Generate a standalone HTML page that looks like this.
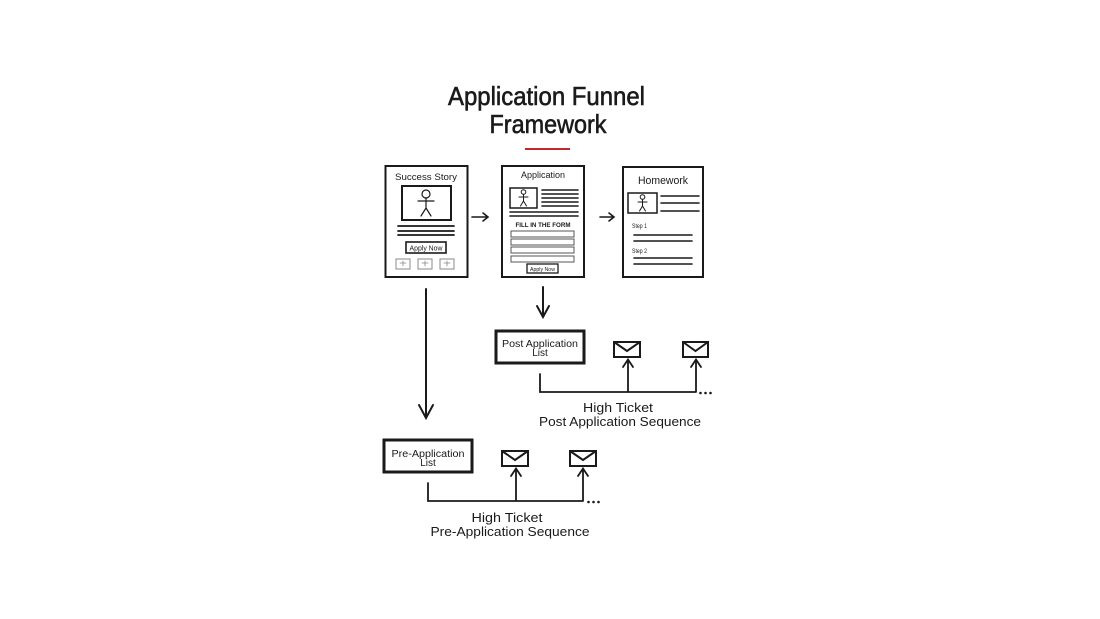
<!DOCTYPE html>
<html><head><meta charset="utf-8"><style>
html,body{margin:0;padding:0;background:#fff;width:1100px;height:619px;overflow:hidden}
svg{display:block}
text{font-family:"Liberation Sans",sans-serif;fill:#1a1a1a}
</style></head><body>
<svg width="1100" height="619" viewBox="0 0 1100 619" xmlns="http://www.w3.org/2000/svg">
<rect width="1100" height="619" fill="#fff"/>
<!-- Title -->
<text x="546.5" y="105" font-size="26" text-anchor="middle" textLength="197" lengthAdjust="spacingAndGlyphs" stroke="#1a1a1a" stroke-width="0.6">Application Funnel</text>
<text x="548" y="133" font-size="26" text-anchor="middle" textLength="117" lengthAdjust="spacingAndGlyphs" stroke="#1a1a1a" stroke-width="0.6">Framework</text>
<line x1="525" y1="149" x2="570" y2="149" stroke="#c1272d" stroke-width="2"/>

<g stroke="#1a1a1a" fill="none" stroke-linecap="round">
<!-- Success Story card -->
<rect x="385.5" y="166" width="82" height="111" stroke-width="2"/>
<rect x="402" y="186" width="49" height="34" stroke-width="2"/>
<circle cx="426" cy="194" r="4" stroke-width="1.2"/>
<path d="M426 198 V208 M418 201 H434 M426 208 L421 216 M426 208 L431 216" stroke-width="1.2"/>
<path d="M398 226 H454 M398 231 H454 M398 235 H454" stroke-width="1.8"/>
<rect x="406" y="242" width="40" height="11" stroke-width="1.6"/>
<g stroke="#888" stroke-width="1">
<rect x="396" y="259" width="14" height="10"/>
<rect x="418" y="259" width="14" height="10"/>
<rect x="440" y="259" width="14" height="10"/>
<path d="M403 261v5M400 263h6M425 261v5M422 263h6M447 261v5M444 263h6" stroke-width="0.8"/>
</g>

<!-- Application card -->
<rect x="502" y="166" width="82" height="111" stroke-width="2"/>
<rect x="510" y="188" width="27" height="20" stroke-width="1.5"/>
<circle cx="523.5" cy="192" r="2.3" stroke-width="1"/>
<path d="M523.5 194.5 V201 M519 197 H528 M523.5 201 L520.5 206 M523.5 201 L526.5 206" stroke-width="1"/>
<path d="M542 190 H578 M542 194 H578 M542 198 H578 M542 202 H578 M542 206 H578 M510 212 H578 M510 216 H578" stroke-width="1.6"/>
<g stroke="#555" stroke-width="1">
<rect x="511" y="231" width="63" height="6"/>
<rect x="511" y="239" width="63" height="6"/>
<rect x="511" y="247" width="63" height="6"/>
<rect x="511" y="256" width="63" height="6"/>
</g>
<rect x="527" y="264" width="31" height="9" stroke-width="1.3"/>

<!-- Homework card -->
<rect x="623" y="167" width="80" height="110" stroke-width="2"/>
<rect x="628" y="193" width="29" height="20" stroke-width="1.5"/>
<circle cx="642.5" cy="197" r="2.3" stroke-width="1"/>
<path d="M642.5 199.5 V206 M638 202 H647 M642.5 206 L639.5 211 M642.5 206 L645.5 211" stroke-width="1"/>
<path d="M661 196 H699 M661 203 H699 M661 211 H699" stroke-width="1.6"/>
<path d="M634 235 H692 M634 241 H692 M634 258 H692 M634 264 H692" stroke-width="1.6"/>

<!-- horizontal arrows -->
<path d="M472 217 H488 M483 213 L488 217 L483 221" stroke-width="1.6"/>
<path d="M600 217 H614 M609 213 L614 217 L609 221" stroke-width="1.6"/>

<!-- long down arrow -->
<path d="M426 289 V417 M419 405 L426 418 L433 405" stroke-width="2"/>
<!-- app down arrow -->
<path d="M543 287 V316 M537 306 L543 317 L549 306" stroke-width="2"/>

<!-- Post application list -->
<rect x="496" y="331" width="88" height="32" stroke-width="3"/>
<rect x="614" y="342" width="26" height="15" stroke-width="2"/>
<path d="M614 342 L627 351 L640 342" stroke-width="2"/>
<rect x="683" y="342" width="25" height="15" stroke-width="2"/>
<path d="M683 342 L695.5 351 L708 342" stroke-width="2"/>
<path d="M540 374 V392 H696 M628 392 V360 M623 367 L628 359.5 L633 367 M696 392 V360 M691 367 L696 359.5 L701 367" stroke-width="1.8" stroke-linejoin="miter"/>

<!-- Pre application list -->
<rect x="384" y="440" width="88" height="32" stroke-width="3"/>
<rect x="502" y="451" width="26" height="15" stroke-width="2"/>
<path d="M502 451 L515 460 L528 451" stroke-width="2"/>
<rect x="570" y="451" width="26" height="15" stroke-width="2"/>
<path d="M570 451 L583 460 L596 451" stroke-width="2"/>
<path d="M428 483 V501 H583 M516 501 V469 M511 476 L516 468.5 L521 476 M583 501 V469 M578 476 L583 468.5 L588 476" stroke-width="1.8" stroke-linejoin="miter"/>
</g>

<g fill="#1a1a1a">
<circle cx="700.5" cy="393" r="1.3"/><circle cx="705.5" cy="393" r="1.3"/><circle cx="710.5" cy="393" r="1.3"/>
<circle cx="588.5" cy="502" r="1.3"/><circle cx="593.5" cy="502" r="1.3"/><circle cx="598.5" cy="502" r="1.3"/>
</g>

<!-- card texts -->
<text x="426" y="180" font-size="9" text-anchor="middle" textLength="62" lengthAdjust="spacingAndGlyphs">Success Story</text>
<text x="426" y="250.5" font-size="7" text-anchor="middle" textLength="33" lengthAdjust="spacingAndGlyphs">Apply Now</text>
<text x="543" y="178" font-size="9" text-anchor="middle" textLength="44" lengthAdjust="spacingAndGlyphs">Application</text>
<text x="543" y="227" font-size="6" font-weight="bold" text-anchor="middle" textLength="55" lengthAdjust="spacingAndGlyphs">FILL IN THE FORM</text>
<text x="542.5" y="271" font-size="5.5" text-anchor="middle" textLength="25" lengthAdjust="spacingAndGlyphs">Apply Now</text>
<text x="663" y="184" font-size="11" text-anchor="middle" textLength="50" lengthAdjust="spacingAndGlyphs">Homework</text>
<text x="632" y="228" font-size="6" textLength="15" lengthAdjust="spacingAndGlyphs">Step 1</text>
<text x="632" y="253" font-size="6" textLength="15" lengthAdjust="spacingAndGlyphs">Step 2</text>

<!-- list texts -->
<text x="540" y="347" font-size="10" text-anchor="middle" textLength="76" lengthAdjust="spacingAndGlyphs">Post Application</text>
<text x="540" y="356" font-size="10" text-anchor="middle">List</text>
<text x="428" y="457" font-size="10" text-anchor="middle" textLength="73" lengthAdjust="spacingAndGlyphs">Pre-Application</text>
<text x="428" y="466" font-size="10" text-anchor="middle">List</text>

<!-- sequence labels -->
<text x="618" y="412" font-size="13" text-anchor="middle" textLength="70" lengthAdjust="spacingAndGlyphs">High Ticket</text>
<text x="620" y="426" font-size="13" text-anchor="middle" textLength="162" lengthAdjust="spacingAndGlyphs">Post Application Sequence</text>
<text x="507" y="522" font-size="13" text-anchor="middle" textLength="71" lengthAdjust="spacingAndGlyphs">High Ticket</text>
<text x="510" y="536" font-size="13" text-anchor="middle" textLength="159" lengthAdjust="spacingAndGlyphs">Pre-Application Sequence</text>
</svg>
</body></html>
